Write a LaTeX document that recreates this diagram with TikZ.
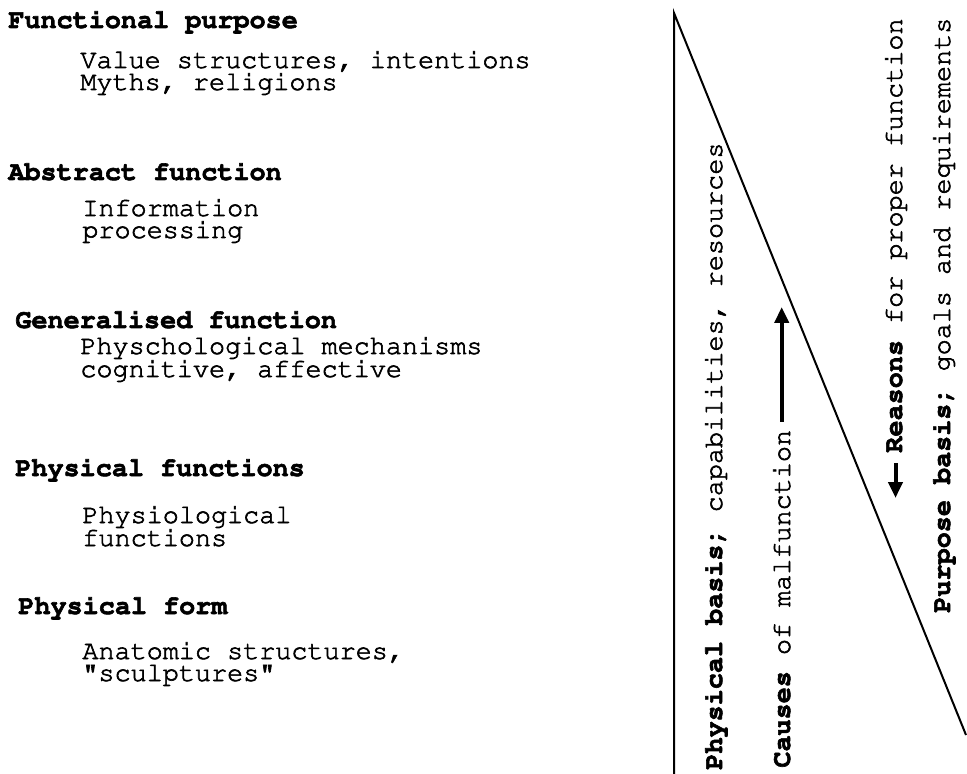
\documentclass[tikz,border=0pt]{standalone}
\usepackage[T1]{fontenc}
\renewcommand{\ttdefault}{pcr}
\usetikzlibrary{arrows.meta}

% thicken the thin Courier strokes a little
\newcommand{\inkier}{\special{pdf:code 2 Tr 0.3 w}}

\begin{document}
\begin{tikzpicture}[
            x=0.5pt, y=-0.5pt,
            every node/.style={
                font=\ttfamily\fontsize{13.4}{16}\selectfont\inkier,
                inner sep=0pt,
                anchor=base west
            },
            side text/.style={
                rotate=90
            },
            fat arrow/.style={
                -{Triangle[length=8pt, width=7pt]},
                line width=2pt
            }
            ]

            \useasboundingbox (0,0) rectangle (967,774);

            % levels of the hierarchy
            \foreach \name/\x/\y/\txt in {
                fp/8/28/{\bfseries Functional purpose},
                vs/80/68/{Value structures, intentions},
                myths/80/90/{Myths, religions},
                af/8/180/{\bfseries Abstract function},
                info/82/216/{Information},
                proc/82/238/{processing},
                gf/15/328/{\bfseries Generalised function},
                psych/80/354/{Physchological mechanisms},
                cogn/80/377/{cognitive, affective},
                pfn/15/476/{\bfseries Physical functions},
                physio/82/523/{Physiological},
                fns/82/546/{functions},
                pform/18/614/{\bfseries Physical form},
                anat/82/659/{Anatomic structures,},
                sculpt/82/681/{"sculptures"}} {
                \node (\name) at (\x, \y) {\txt};
            }

            % triangle
            \coordinate (apex) at (674, 13);
            \coordinate (foot) at (674, 774);
            \coordinate (toe) at (966, 735);
            \draw[line width=1pt] (foot) -- (apex) -- (toe);

            % side labels
            \node[side text] (physbasis) at (722, 770) {\textbf{Physical basis;} capabilities, resources};
            \node[side text] (causes) at (790, 768) {\textbf{Causes} of malfunction};
            \node[side text] (reasons) at (902, 453) {\textbf{Reasons} for proper function};
            \node[side text] (purpose) at (950, 613) {\textbf{Purpose basis;} goals and requirements};

            \coordinate (uptip) at (777, 307);
            \coordinate (downtip) at (892, 498);
            \draw[fat arrow, shorten <=4pt] (causes.east) -- (causes.east |- uptip);
            \draw[fat arrow, shorten <=5pt] (reasons.west) -- (reasons.west |- downtip);

        \end{tikzpicture}
\end{document}
